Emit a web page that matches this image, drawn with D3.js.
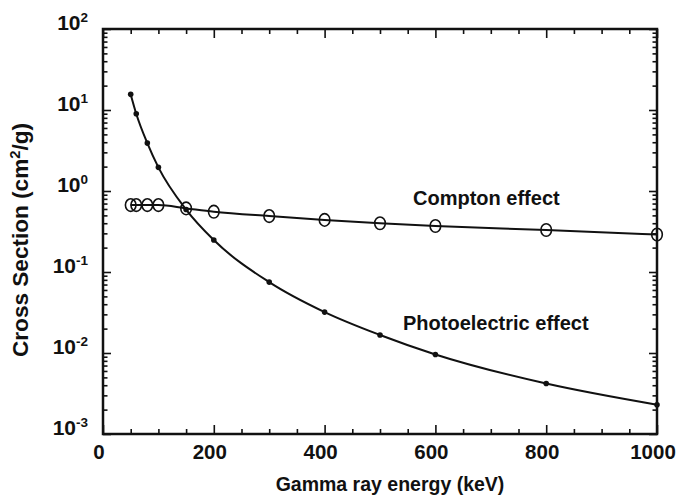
<!DOCTYPE html>
<html>
<head>
<meta charset="utf-8">
<script src="https://cdn.jsdelivr.net/npm/d3@7"></script>
<style>
  html, body { margin: 0; padding: 0; background: #fff; }
  svg { display: block; }
  text { font-family: "Liberation Sans", Arial, Helvetica, sans-serif; font-weight: bold; fill: #111; }
</style>
</head>
<body>
<svg id="chart" width="677" height="501"></svg>
<script>
// ---- data ----
const energies = [50, 60, 80, 100, 150, 200, 300, 400, 500, 600, 800, 1000];
const photoelectric = [15.6, 9.0, 3.9, 1.96, 0.59, 0.248, 0.075, 0.032, 0.0167, 0.0096, 0.0042, 0.0023];
const compton = [0.67, 0.67, 0.67, 0.67, 0.61, 0.555, 0.49, 0.44, 0.40, 0.37, 0.33, 0.29];
const xMajorTicks = [0, 200, 400, 600, 800, 1000];
const yDecades = [1e-3, 1e-2, 1e-1, 1e0, 1e1, 1e2];
const yExponents = ["-3", "-2", "-1", "0", "1", "2"];
const xTitle = "Gamma ray energy (keV)";
const seriesLabels = ["Compton effect", "Photoelectric effect"];

// ---- layout ----
const L = 103, R = 657, T = 29, B = 434;
const svg = d3.select("#chart");
const x = d3.scaleLinear().domain([0, 1000]).range([L, R]);
const y = d3.scaleLog().domain([1e-3, 1e2]).range([B, T]);

const yMinor = [];
yDecades.slice(0, -1).forEach(d => { for (let k = 2; k <= 9; k++) yMinor.push(d * k); });
const xMinor = d3.range(0, 1001, 50).filter(v => v % 200 !== 0);

function styleAxis(g) {
  g.select(".domain").remove();
  g.selectAll("line").attr("stroke", "#111").attr("stroke-width", 1.6);
  g.selectAll("text").remove();
}
// bottom
svg.append("g").attr("transform", `translate(0,${B})`)
  .call(d3.axisBottom(x).tickValues(xMajorTicks).tickSize(-9).tickFormat("")).call(styleAxis);
svg.append("g").attr("transform", `translate(0,${B})`)
  .call(d3.axisBottom(x).tickValues(xMinor).tickSize(-5).tickFormat("")).call(styleAxis);
// top
svg.append("g").attr("transform", `translate(0,${T})`)
  .call(d3.axisTop(x).tickValues(xMajorTicks).tickSize(-9).tickFormat("")).call(styleAxis);
svg.append("g").attr("transform", `translate(0,${T})`)
  .call(d3.axisTop(x).tickValues(xMinor).tickSize(-5).tickFormat("")).call(styleAxis);
// left
svg.append("g").attr("transform", `translate(${L},0)`)
  .call(d3.axisLeft(y).tickValues(yDecades).tickSize(-8).tickFormat("")).call(styleAxis);
svg.append("g").attr("transform", `translate(${L},0)`)
  .call(d3.axisLeft(y).tickValues(yMinor).tickSize(-4.5).tickFormat("")).call(styleAxis);
// right
svg.append("g").attr("transform", `translate(${R},0)`)
  .call(d3.axisRight(y).tickValues(yDecades).tickSize(-8).tickFormat("")).call(styleAxis);
svg.append("g").attr("transform", `translate(${R},0)`)
  .call(d3.axisRight(y).tickValues(yMinor).tickSize(-4.5).tickFormat("")).call(styleAxis);

// x tick labels
svg.append("g").selectAll("text").data(xMajorTicks).join("text")
  .attr("x", d => x(d) - 4).attr("y", B + 25)
  .attr("text-anchor", "middle").attr("font-size", 20.5)
  .text(d => d);

// y tick labels (10^n)
const yl = svg.append("g").selectAll("text").data(yDecades).join("text")
  .attr("x", 88).attr("y", d => y(d) + 0.5)
  .attr("text-anchor", "end").attr("font-size", 21);
yl.append("tspan").text("10");
yl.append("tspan").attr("font-size", 13.5).attr("dy", -8).text((d, i) => yExponents[i]);

// axis titles
svg.append("text").attr("x", 390).attr("y", 491)
  .attr("text-anchor", "middle").attr("font-size", 19.5).text(xTitle);
const yt = svg.append("text").attr("transform", "translate(28,240) rotate(-90)")
  .attr("text-anchor", "middle").attr("font-size", 21.5)
  .attr("textLength", 234).attr("lengthAdjust", "spacingAndGlyphs");
yt.append("tspan").text("Cross Section (cm");
yt.append("tspan").attr("font-size", 14).attr("dy", -8).text("2");
yt.append("tspan").attr("dy", 8).text("/g)");

// ---- series ----
const cData = energies.map((e, i) => [e, compton[i]]);
const pData = energies.map((e, i) => [e, photoelectric[i]]);
const line = d3.line().x(d => x(d[0])).y(d => y(d[1])).curve(d3.curveMonotoneX);

svg.append("path").datum(cData).attr("d", line)
  .attr("fill", "none").attr("stroke", "#111").attr("stroke-width", 2);
svg.append("g").selectAll("ellipse").data(cData).join("ellipse")
  .attr("cx", d => x(d[0])).attr("cy", d => y(d[1]))
  .attr("rx", 5.3).attr("ry", 6.3)
  .attr("fill", "none").attr("stroke", "#111").attr("stroke-width", 1.6);

svg.append("path").datum(pData).attr("d", line)
  .attr("fill", "none").attr("stroke", "#111").attr("stroke-width", 2);
svg.append("g").selectAll("circle").data(pData).join("circle")
  .attr("cx", d => x(d[0])).attr("cy", d => y(d[1]))
  .attr("r", 2.8).attr("fill", "#111");

// series labels
svg.append("text").attr("x", 413).attr("y", 205).attr("font-size", 20).text(seriesLabels[0]);
svg.append("text").attr("x", 403).attr("y", 330).attr("font-size", 20).text(seriesLabels[1]);

// frame
svg.append("rect").attr("x", L).attr("y", T).attr("width", R - L).attr("height", B - T)
  .attr("fill", "none").attr("stroke", "#111").attr("stroke-width", 2.5);
</script>
</body>
</html>
